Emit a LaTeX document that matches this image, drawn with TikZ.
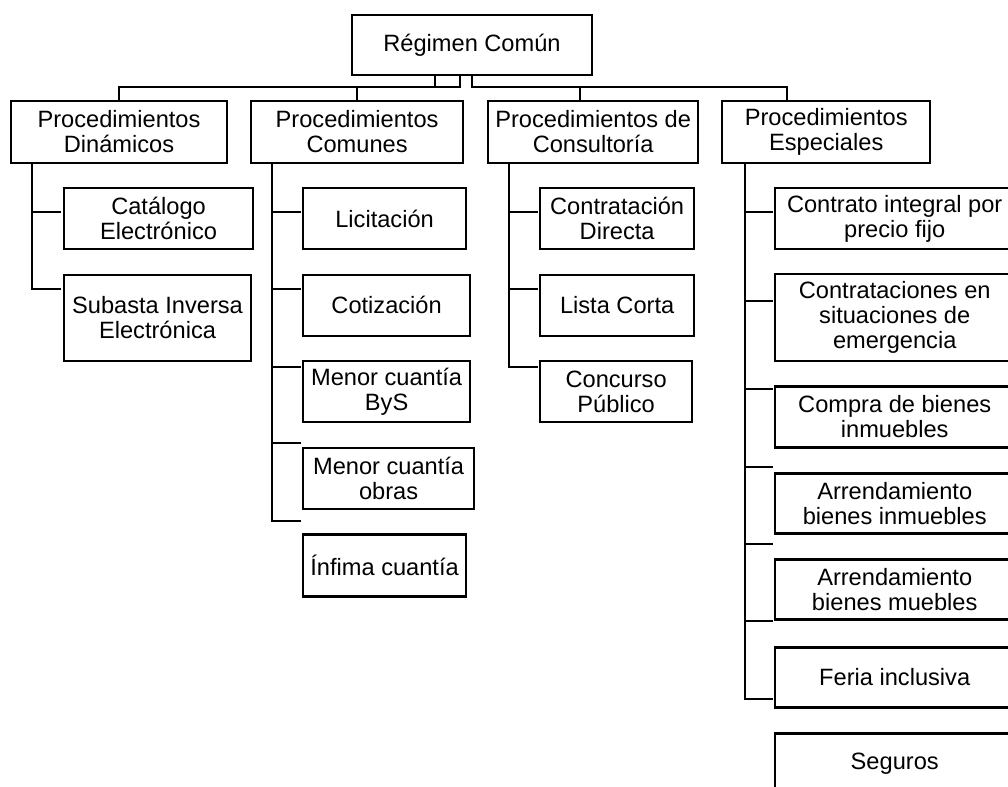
\documentclass[tikz,border=0pt]{standalone}
\usepackage{fontspec}
\setmainfont{Liberation Sans}
\usetikzlibrary{positioning,calc}

\begin{document}
\begin{tikzpicture}[
      x=0.025cm, y=-0.025cm,
      font=\fontsize{16.8}{17.8}\selectfont,
      node distance=0.64cm and 1.3cm,
      % Reusable styles for the chart
      box/.style={
        draw=black,
        line width=1.6pt,
        align=center,
        inner sep=1pt,
        outer sep=0pt,
        minimum height=1.525cm
      },
      head/.style={box, minimum height=1.55cm},
      link/.style={line width=1.7pt, draw=black}
    ]
    \useasboundingbox (0,0) rectangle (1008,787);

    % Root and the four families of procedures
    \node[box, minimum width=6cm, minimum height=1.5cm] (root) at (472,45) {Régimen Común};
    \node[head, minimum width=5.4cm, anchor=north west] (din) at (11,101) {Procedimientos\\Dinámicos};
    \node[head, minimum width=5.3cm, right=0.6cm of din] (com) {Procedimientos\\Comunes};
    \node[head, minimum width=5.25cm, right=0.625cm of com] (cons) {Procedimientos de\\Consultoría};
    \node[head, minimum width=5.2cm, right=0.6cm of cons] (esp) {Procedimientos\\Especiales};

    % Dinámicos
    \node[box, minimum width=4.725cm, below right=0.625cm and 1.325cm of din.south west] (cat) {Catálogo\\Electrónico};
    \node[box, minimum width=4.675cm, minimum height=2.15cm, below=of cat.south west, anchor=north west] (sub) {Subasta Inversa\\Electrónica};

    % Comunes
    \node[box, minimum width=4.075cm, below right=0.625cm and 1.3cm of com.south west] (lic) {Licitación};
    \node[box, minimum width=4.175cm, below=of lic.south west, anchor=north west] (cot) {Cotización};
    \node[box, minimum width=4.175cm, below=of cot.south west, anchor=north west] (bys) {Menor cuantía\\ByS};
    \node[box, minimum width=4.275cm, below=of bys.south west, anchor=north west] (obr) {Menor cuantía\\obras};
    \node[box, minimum width=4.075cm, minimum height=1.55cm, below=of obr.south west, anchor=north west] (inf) {Ínfima cuantía};

    % Consultoría
    \node[box, minimum width=3.85cm, below right=0.625cm and 1.3cm of cons.south west] (dir) {Contratación\\Directa};
    \node[box, minimum width=3.85cm, below=of dir.south west, anchor=north west] (lis) {Lista Corta};
    \node[box, minimum width=3.8cm, below=of lis.south west, anchor=north west] (con) {Concurso\\Público};

    % Especiales (run off the right edge)
    \node[box, minimum width=5.975cm, below right=0.625cm and 1.325cm of esp.south west] (sp1) {Contrato integral por\\precio fijo};
    \node[box, minimum width=5.975cm, minimum height=2.175cm, below=0.63cm of sp1.south west, anchor=north west] (sp2) {Contrataciones en\\situaciones de\\emergencia};
    \node[box, minimum width=5.975cm, below=0.63cm of sp2.south west, anchor=north west] (sp3) {Compra de bienes\\inmuebles};
    \node[box, minimum width=5.975cm, minimum height=1.5cm, below=0.65cm of sp3.south west, anchor=north west] (sp4) {Arrendamiento\\bienes inmuebles};
    \node[box, minimum width=5.975cm, minimum height=1.5cm, below=0.65cm of sp4.south west, anchor=north west] (sp5) {Arrendamiento\\bienes muebles};
    \node[box, minimum width=5.975cm, minimum height=1.5cm, below=0.7cm of sp5.south west, anchor=north west] (sp6) {Feria inclusiva};
    \node[box, minimum width=5.975cm, minimum height=1.5cm, below=0.65cm of sp6.south west, anchor=north west] (sp7) {Seguros};

    % Bus from the root to the families
    \draw[link] ($(root.south west)+(83,0)$) -- ++(0,12) -| (din.north);
    \draw[link] ($(root.south west)+(108,0)$) -- ++(0,12) -| (com.north);
    \draw[link] (root.south) -- ++(0,12) -| ($(cons.north west)+(92,0)$);
    \draw[link] (root.south) -- ++(0,12) -| ($(esp.north west)+(65,0)$);

    % Spines under each family, with their stubs
    \coordinate (dsp) at ($(din.south west)+(21,0)$);
    \coordinate (csp) at ($(com.south west)+(21,0)$);
    \coordinate (ksp) at ($(cons.south west)+(21,0)$);
    \coordinate (esp0) at ($(esp.south west)+(23,0)$);

    \coordinate (d1) at (61,212);  \coordinate (d2) at (61,289);
    \coordinate (c1) at (301,212); \coordinate (c2) at (301,289);
    \coordinate (c3) at (301,367); \coordinate (c4) at (301,443);
    \coordinate (c5) at (301,521);
    \coordinate (k1) at (538,212); \coordinate (k2) at (538,289);
    \coordinate (k3) at (538,367);
    \coordinate (e1) at (773,212); \coordinate (e2) at (773,301);
    \coordinate (e3) at (773,389); \coordinate (e4) at (773,467);
    \coordinate (e5) at (773,544); \coordinate (e6) at (773,621);
    \coordinate (e7) at (773,699);

    \draw[link] (dsp) |- (d1) (dsp) |- (d2);
    \draw[link] (csp) |- (c1) (csp) |- (c2) (csp) |- (c3) (csp) |- (c4) (csp) |- (c5);
    \draw[link] (ksp) |- (k1) (ksp) |- (k2) (ksp) |- (k3);
    \draw[link] (esp0) |- (e1) (esp0) |- (e2) (esp0) |- (e3) (esp0) |- (e4)
                (esp0) |- (e5) (esp0) |- (e6) (esp0) |- (e7);
  \end{tikzpicture}
\end{document}
